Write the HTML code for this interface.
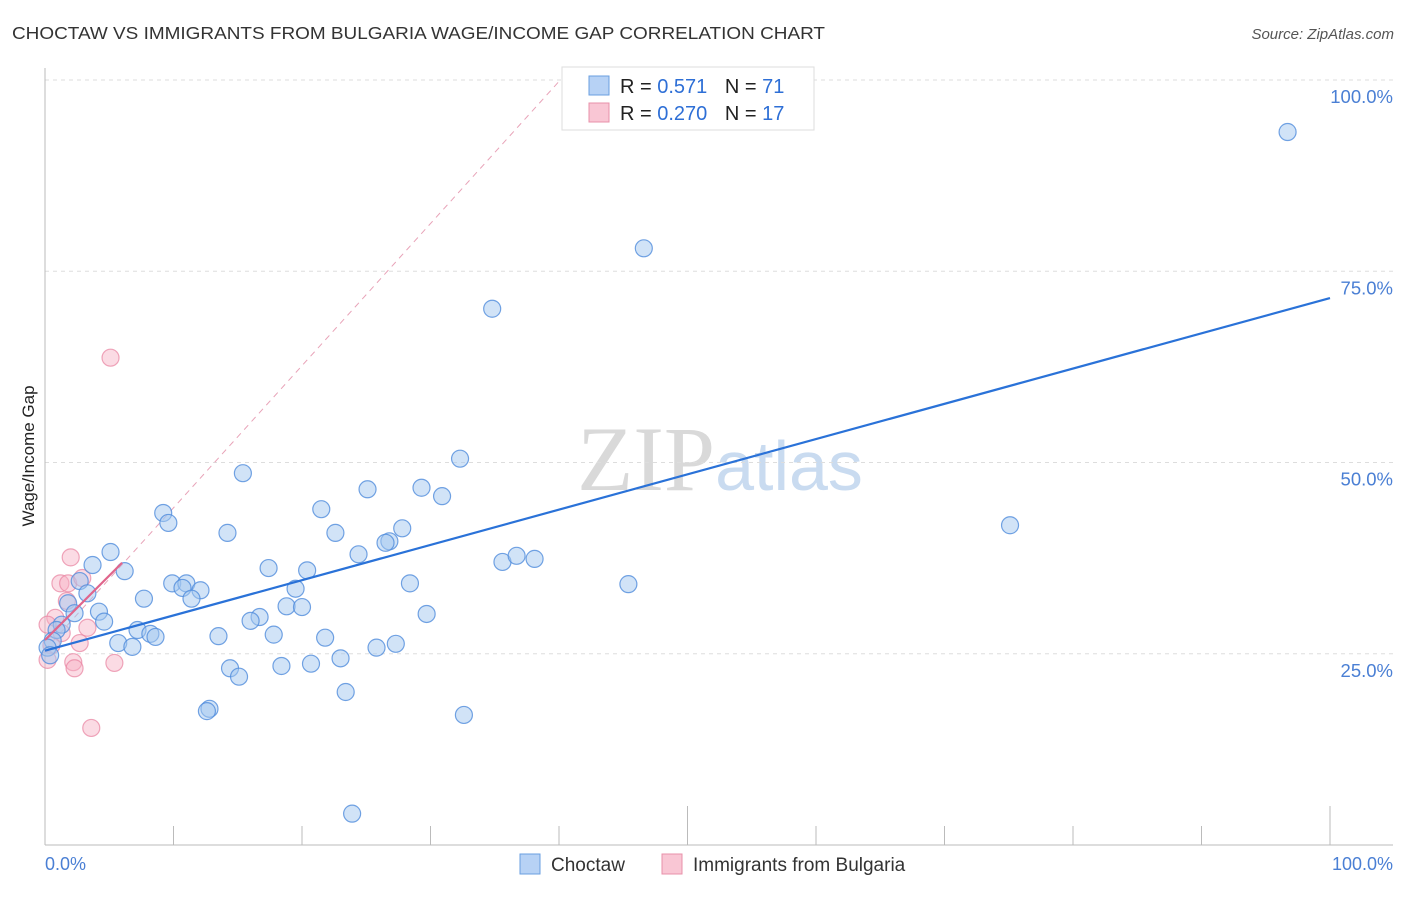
<!DOCTYPE html>
<html><head><meta charset="utf-8"><style>
body{margin:0;background:#fff;font-family:"Liberation Sans",sans-serif}
</style></head><body>
<svg width="1406" height="892" xmlns="http://www.w3.org/2000/svg" font-family="Liberation Sans, sans-serif">
<text x="12" y="39" font-size="17.5" fill="#333" textLength="813" lengthAdjust="spacingAndGlyphs">CHOCTAW VS IMMIGRANTS FROM BULGARIA WAGE/INCOME GAP CORRELATION CHART</text>
<text x="1394" y="39" font-size="15" fill="#555" text-anchor="end" font-style="italic">Source: ZipAtlas.com</text>
<text x="720" y="490" font-size="92" fill="#d9d9d9" text-anchor="middle" font-family="Liberation Serif, serif">ZIP<tspan fill="#c9dbf0" font-family="Liberation Sans, sans-serif" font-size="70">atlas</tspan></text>
<g id="grid"></g>
<line x1="45" y1="68" x2="45" y2="845" stroke="#bbb"/>
<line x1="45" y1="845" x2="1393" y2="845" stroke="#bbb"/>
<text transform="translate(34,456) rotate(-90)" font-size="17" fill="#222" text-anchor="middle">Wage/Income Gap</text>
<text x="45" y="870" font-size="18" fill="#4a7fd4">0.0%</text>
<text x="1393" y="870" font-size="18" fill="#4a7fd4" text-anchor="end">100.0%</text>
<g id="marks"></g>
<g>
<rect x="562" y="67" width="252" height="63" fill="#fff" stroke="#ddd"/>
<rect x="589" y="76" width="20" height="19" fill="#b7d2f5" stroke="#6a9fe0"/>
<text x="620" y="93" font-size="20" fill="#222">R = <tspan fill="#2e6fd6"> 0.571</tspan>  <tspan dx="12">N = </tspan><tspan fill="#2e6fd6">71</tspan></text>
<rect x="589" y="103" width="20" height="19" fill="#f9c6d4" stroke="#e890aa"/>
<text x="620" y="120" font-size="20" fill="#222">R = <tspan fill="#2e6fd6">0.270</tspan>  <tspan dx="12">N = </tspan><tspan fill="#2e6fd6">17</tspan></text>
</g>
<g>
<rect x="520" y="854" width="20" height="20" fill="#b7d2f5" stroke="#6a9fe0"/>
<text x="551" y="871" font-size="19" fill="#333">Choctaw</text>
<rect x="662" y="854" width="20" height="20" fill="#f9c6d4" stroke="#e890aa"/>
<text x="693" y="871" font-size="19" fill="#333">Immigrants from Bulgaria</text>
</g>
</svg>
<script>
const yTicks=[25,50,75,100];
const yTickLabels=["25.0%","50.0%","75.0%","100.0%"];
const xTicks=[0,10,20,30,40,50,60,70,80,90,100];
const blueX=[96.7,46.6,34.8,15.4,32.3,25.1,29.3,30.9,9.2,9.6,21.5,14.2,22.6,75.1,27.8,26.8,26.5,24.4,5.1,3.7,6.2,17.4,20.4,35.6,36.7,38.1,45.4,28.4,9.9,11.0,10.7,12.1,19.5,2.7,3.3,7.7,11.4,1.8,18.8,20.0,4.2,2.3,16.7,16.0,29.7,4.6,1.3,0.9,7.2,8.2,8.6,13.5,17.8,21.8,5.7,6.8,25.8,27.3,0.6,0.2,23.0,20.7,14.4,18.4,15.1,23.4,12.8,12.6,32.6,23.9,0.4];
const blueY=[93.2,78.0,70.1,48.6,50.5,46.5,46.7,45.6,43.4,42.1,43.9,40.8,40.8,41.8,41.4,39.7,39.5,38.0,38.3,36.6,35.8,36.2,35.9,37.0,37.8,37.4,34.1,34.2,34.2,34.2,33.6,33.3,33.5,34.5,32.9,32.2,32.2,31.6,31.2,31.1,30.5,30.3,29.8,29.3,30.2,29.2,28.8,28.1,28.1,27.6,27.2,27.3,27.5,27.1,26.4,25.9,25.8,26.3,26.7,25.8,24.4,23.7,23.1,23.4,22.0,20.0,17.8,17.5,17.0,4.1,24.8];
const pinkX=[5.1,2.0,1.2,1.8,2.9,1.7,0.8,0.2,3.3,1.3,2.7,0.5,0.2,5.4,2.2,2.3,3.6];
const pinkY=[63.7,37.6,34.2,34.2,34.9,31.9,29.7,28.8,28.4,27.7,26.4,26.1,24.2,23.8,23.9,23.1,15.3];
const blueTrend=[[0,25.4],[100,71.5]];
const pinkTrend=[[0,26.8],[6.0,36.9]];
const diagLine=[[0,25.5],[40.1,100]];
const NS="http://www.w3.org/2000/svg";
const sx=v=>45+v*12.85, sy=v=>845-v*7.65;
function mk(t,a,p){const e=document.createElementNS(NS,t);for(const k in a)e.setAttribute(k,a[k]);p.appendChild(e);return e;}
const grid=document.getElementById('grid'), marks=document.getElementById('marks');
yTicks.forEach((t,i)=>{
 const l=mk('line',{x1:45,x2:1393,y1:sy(t),y2:sy(t),stroke:'#ddd','stroke-dasharray':'4,4'},grid);
 
 
 const tx=mk('text',{x:1393,y:sy(t)+23,'font-size':18.5,fill:'#4a7fd4','text-anchor':'end'},grid);
 tx.textContent=yTickLabels[i];
 
 
});
xTicks.forEach(t=>{
 const big=(t===50||t===100);
 const l=mk('line',{x1:sx(t),x2:sx(t),y1:big?806:826,y2:845,stroke:'#bbb'},grid);
 
 
});
const d=mk('line',{x1:sx(diagLine[0][0]),y1:sy(diagLine[0][1]),x2:sx(diagLine[1][0]),y2:sy(diagLine[1][1]),stroke:'#e8a3b8','stroke-dasharray':'6,5','stroke-width':1},marks);


pinkX.forEach((x,i)=>{
 const c=mk('circle',{cx:sx(x),cy:sy(pinkY[i]),r:8.5,fill:'rgba(247,175,195,0.45)',stroke:'rgba(232,130,160,0.7)','stroke-width':1.2},marks);
 
 
});
blueX.forEach((x,i)=>{
 const c=mk('circle',{cx:sx(x),cy:sy(blueY[i]),r:8.5,fill:'rgba(164,200,240,0.5)',stroke:'rgba(80,140,220,0.8)','stroke-width':1.2},marks);
 
 
});
const bt=mk('line',{x1:sx(blueTrend[0][0]),y1:sy(blueTrend[0][1]),x2:sx(blueTrend[1][0]),y2:sy(blueTrend[1][1]),stroke:'#2a72d8','stroke-width':2.2},marks);


const pt=mk('line',{x1:sx(pinkTrend[0][0]),y1:sy(pinkTrend[0][1]),x2:sx(pinkTrend[1][0]),y2:sy(pinkTrend[1][1]),stroke:'#e0658c','stroke-width':2.2},marks);


</script>
</body></html>
